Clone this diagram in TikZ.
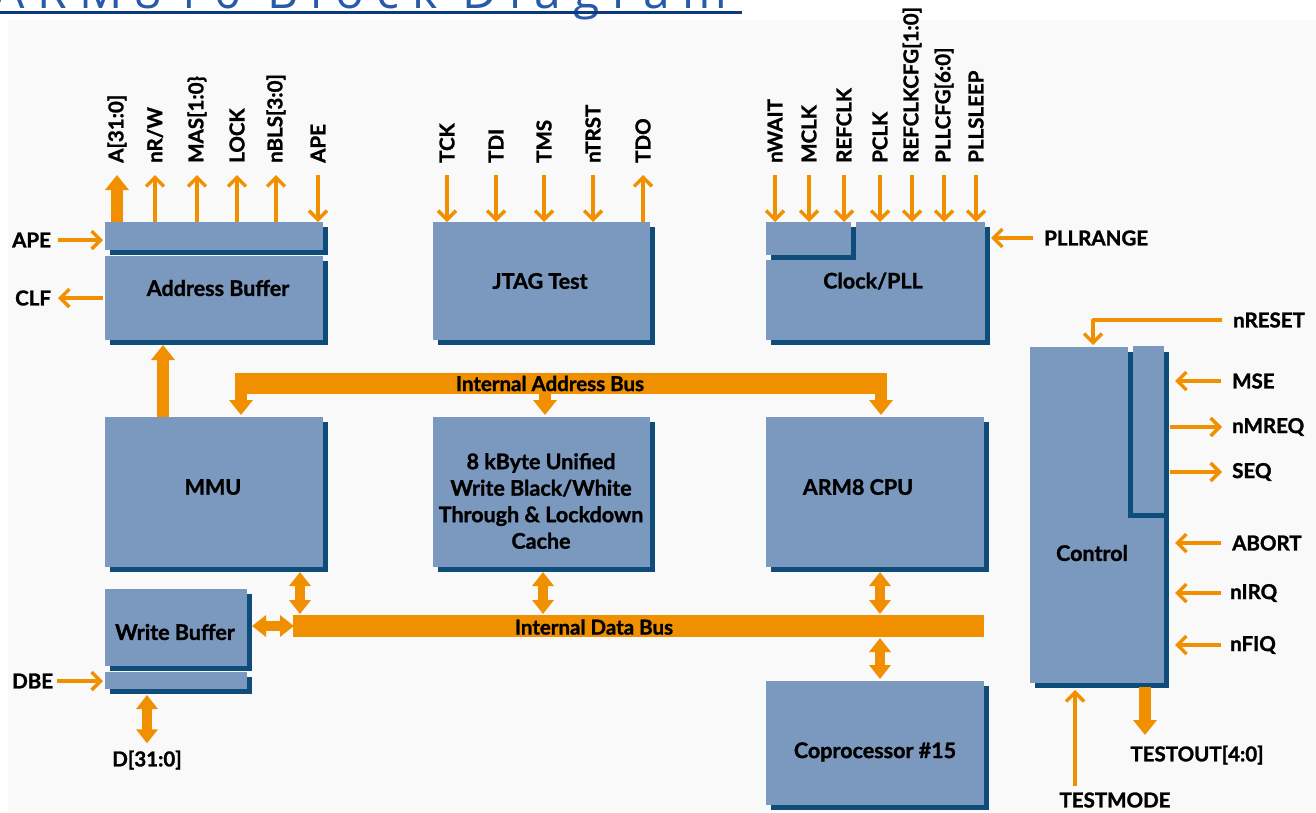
\documentclass[tikz,border=0pt]{standalone}
\usepackage{fontspec}
\setmainfont{Lato}[BoldFeatures={FakeBold=1.3}]
\newfontfamily\titlefont[LetterSpace=26]{Open Sans}
\usetikzlibrary{arrows.meta,shadows,calc}
\definecolor{blk}{RGB}{123,152,190}
\definecolor{shd}{RGB}{14,76,122}
\definecolor{org}{RGB}{240,144,0}
\definecolor{panel}{RGB}{249,249,249}
\definecolor{ttl}{RGB}{40,90,170}
\definecolor{uline}{RGB}{12,58,125}
\newcommand\bx[5]{\node[box,minimum width={#4-#2},minimum height={#5-#3}] (#1) at ({(#2+#4)/2},{(#3+#5)/2}) {};}
\begin{document}
\begin{tikzpicture}[x=1pt,y=-1pt,
  box/.style={fill=blk,draw=none,inner sep=0pt,outer sep=0pt,
    general shadow={fill=shd,shadow xshift=5pt,shadow yshift=-5pt}},
  lbl/.style={font=\bfseries\fontsize{20.5}{23}\selectfont,inner sep=0pt,text=black},
  blab/.style={font=\bfseries\fontsize{21.5}{26.5}\selectfont,inner sep=0pt,text=black,align=center},
  pinv/.style={lbl,rotate=90,anchor=west},
  pinl/.style={lbl,anchor=west},
  thinar/.style={draw=org,line width=3.5pt,line join=round,-{Straight Barb[width=18pt,length=9pt]}},
  thickar/.style={draw=org,line width=12pt,-{Triangle[width=23pt,length=15pt]}},
  dblar/.style={draw=org,line width=10pt,{Triangle[width=21pt,length=14pt]}-{Triangle[width=21pt,length=14pt]}},
  bus/.style={fill=org,inner sep=0pt,outer sep=0pt},
  buslab/.style={font=\bfseries\fontsize{20.5}{22}\selectfont,inner sep=0pt,text=black}
]
\useasboundingbox (0,0) rectangle (1316,812);
\begin{scope}
\clip (0,0) rectangle (1316,812);
\fill[white] (0,0) rectangle (1316,812);
\fill[panel] (8,20) rectangle (1316,812);
\node[font=\titlefont\fontsize{48}{54}\selectfont,text=ttl,anchor=base west,inner sep=0pt] (title) at (-6,8) {ARM810 Block Diagram};
\fill[uline] (0,11) rectangle (742,13.5);
\end{scope}

% ---------- blocks ----------
\bx{ab1}{105}{222}{323}{250}
\bx{ab2}{105}{256}{323}{340}
\bx{jt}{433}{222}{650}{340}
\bx{ck}{766}{222}{985}{340}
\fill[panel] (766,222) rectangle (856,260);
\bx{ck1}{766}{222}{851}{255}
\bx{mmu}{105}{417}{323}{567}
\bx{cache}{433}{417}{650}{567}
\bx{cpu}{766}{417}{984}{567}
\bx{wb1}{105}{589}{247}{666}
\bx{wb2}{105}{672}{247}{689}
\bx{cop}{766}{681}{984}{805}
\bx{ctrl}{1030}{347}{1164}{683}
\fill[shd] (1128,352) rectangle (1164,518);
\fill[panel] (1128,345) rectangle (1133,352);
\node[fill=blk,inner sep=0pt,outer sep=0pt,minimum width=31,minimum height=167] (ctrl1) at (1148.5,429.5) {};

% ---------- block texts ----------
\node[blab] (tab) at (218,288) {Address Buffer};
\node[blab] (tjt) at (540,281) {JTAG Test};
\node[blab] (tck) at (873,281) {Clock/PLL};
\node[blab] (tmmu) at (213,487) {MMU};
\node[blab] (tcache) at (541,501) {8 kByte Unified\\Write Black/White\\Through \& Lockdown\\Cache};
\node[blab] (tcpu) at (858,487) {ARM8 CPU};
\node[blab] (twb) at (175,632) {Write Buffer};
\node[blab] (tcop) at (875,752) {Coprocessor \#15};
\node[blab] (tctrl) at (1092,553) {Control};

% ---------- buses ----------
\node[bus,minimum width=652,minimum height=21] (iab) at (561,383.5) {};
\node[buslab] (liab) at (550,383.5) {Internal Address Bus};
\node[bus,minimum width=691,minimum height=22] (idb) at (638.5,626) {};
\node[buslab] (lidb) at (594,627) {Internal Data Bus};

\draw[thickar] ([xshift=6pt,yshift=1pt]iab.south west) -- ([xshift=6pt,yshift=2pt]iab.south west |- mmu.north);
\draw[thickar] ([xshift=-16pt,yshift=1pt]iab.south) -- ([xshift=-16pt,yshift=2pt]iab.south |- cache.north);
\draw[thickar] ([xshift=-6pt,yshift=1pt]iab.south east) -- ([xshift=-6pt,yshift=2pt]iab.south east |- cpu.north);

\draw[dblar] ([xshift=86pt,yshift=-5pt]mmu.south) -- ([xshift=86pt,yshift=1pt]mmu.south |- idb.north);
\draw[dblar] ([xshift=1.5pt,yshift=-5pt]cache.south) -- ([xshift=1.5pt,yshift=1pt]cache.south |- idb.north);
\draw[dblar] ([xshift=5pt,yshift=-5pt]cpu.south) -- ([xshift=5pt,yshift=1pt]cpu.south |- idb.north);
\draw[dblar] ([xshift=5pt,yshift=-1pt]cop.north |- idb.south) -- ([xshift=5pt,yshift=2pt]cop.north);
\draw[dblar] ([xshift=5pt]wb1.east |- idb.west) -- ([xshift=1pt]idb.west);

\draw[thickar] ([xshift=-51pt]mmu.north) -- ([xshift=-51pt,yshift=-5pt]ab2.south);

% ---------- address buffer pins ----------
\node[pinv] (pA) at (117,163) {A[31:0]};
\node[pinv] (pRW) at (155,163) {nR/W};
\node[pinv] (pMAS) at (197,163) {MAS[1:0\}};
\node[pinv] (pLOCK) at (237,163) {LOCK};
\node[pinv] (pBLS) at (276,163) {nBLS[3:0]};
\node[pinv] (pAPEt) at (318,163) {APE};
\draw[thickar] (ab1.north -| pA) -- ([yshift=-12pt]pA.west);
\draw[thinar] (ab1.north -| pRW) -- ([yshift=-12pt]pRW.west);
\draw[thinar] (ab1.north -| pMAS) -- ([yshift=-12pt]pMAS.west);
\draw[thinar] (ab1.north -| pLOCK) -- ([yshift=-12pt]pLOCK.west);
\draw[thinar] (ab1.north -| pBLS) -- ([yshift=-12pt]pBLS.west);
\draw[thinar] ([yshift=-12pt]pAPEt.west) -- (ab1.north -| pAPEt);

\node[pinl] (lAPE) at (12,240) {APE};
\node[pinl] (lCLF) at (15,298) {CLF};
\node[pinl] (lDBE) at (12,681) {DBE};
\draw[thinar] ([xshift=46pt]lAPE.west) -- ([xshift=-2pt]ab1.west |- lAPE.west);
\draw[thinar] ([xshift=-2pt]ab2.west |- lCLF.west) -- ([xshift=43pt]lCLF.west);
\draw[thinar] ([xshift=45pt]lDBE.west) -- ([xshift=-2pt]wb2.west |- lDBE.west);

\node[lbl] (lD) at (147,760) {D[31:0]};
\draw[dblar] ([yshift=-6pt]wb2.south -| lD) -- ([yshift=7pt]lD.north);

% ---------- JTAG pins ----------
\node[pinv] (pTCK) at (447,163) {TCK};
\node[pinv] (pTDI) at (496,163) {TDI};
\node[pinv] (pTMS) at (544,163) {TMS};
\node[pinv] (pTRST) at (593,163) {nTRST};
\node[pinv] (pTDO) at (643,163) {TDO};
\draw[thinar] ([yshift=-12pt]pTCK.west) -- (jt.north -| pTCK);
\draw[thinar] ([yshift=-12pt]pTDI.west) -- (jt.north -| pTDI);
\draw[thinar] ([yshift=-12pt]pTMS.west) -- (jt.north -| pTMS);
\draw[thinar] ([yshift=-12pt]pTRST.west) -- (jt.north -| pTRST);
\draw[thinar] (jt.north -| pTDO) -- ([yshift=-12pt]pTDO.west);

% ---------- clock pins ----------
\node[pinv] (pWAIT) at (775,163) {nWAIT};
\node[pinv] (pMCLK) at (809,163) {MCLK};
\node[pinv] (pREF) at (844,163) {REFCLK};
\node[pinv] (pPCLK) at (880,163) {PCLK};
\node[pinv] (pRCFG) at (912,163) {REFCLKCFG[1:0]};
\node[pinv] (pPCFG) at (944,163) {PLLCFG[6:0]};
\node[pinv] (pSLP) at (976,163) {PLLSLEEP};
\draw[thinar] ([yshift=-12pt]pWAIT.west) -- (ck.north -| pWAIT);
\draw[thinar] ([yshift=-12pt]pMCLK.west) -- (ck.north -| pMCLK);
\draw[thinar] ([yshift=-12pt]pREF.west) -- (ck.north -| pREF);
\draw[thinar] ([yshift=-12pt]pPCLK.west) -- (ck.north -| pPCLK);
\draw[thinar] ([yshift=-12pt]pRCFG.west) -- (ck.north -| pRCFG);
\draw[thinar] ([yshift=-12pt]pPCFG.west) -- (ck.north -| pPCFG);
\draw[thinar] ([yshift=-12pt]pSLP.west) -- (ck.north -| pSLP);
\node[pinl] (lPR) at (1044,238) {PLLRANGE};
\draw[thinar] ([xshift=-11pt]lPR.west) -- ([xshift=6pt]ck.east |- lPR.west);

% ---------- control pins ----------
\node[pinl] (lRST) at (1233,320) {nRESET};
\node[pinl] (lMSE) at (1232,381) {MSE};
\node[pinl] (lMREQ) at (1232,427) {nMREQ};
\node[pinl] (lSEQ) at (1232,472) {SEQ};
\node[pinl] (lABT) at (1232,543) {ABORT};
\node[pinl] (lIRQ) at (1230,593) {nIRQ};
\node[pinl] (lFIQ) at (1230,645) {nFIQ};
\draw[thinar] ([xshift=-11pt]lRST.west) -| ([shift={(-4pt,2pt)}]ctrl.north);
\draw[thinar] ([xshift=-11pt]lMSE.west) -- ([xshift=11pt]ctrl.east |- lMSE.west);
\draw[thinar] ([xshift=6pt]ctrl.east |- lMREQ.west) -- ([xshift=-10pt]lMREQ.west);
\draw[thinar] ([xshift=6pt]ctrl.east |- lSEQ.west) -- ([xshift=-10pt]lSEQ.west);
\draw[thinar] ([xshift=-11pt]lABT.west) -- ([xshift=11pt]ctrl.east |- lABT.west);
\draw[thinar] ([xshift=-9pt]lIRQ.west) -- ([xshift=11pt]ctrl.east |- lIRQ.west);
\draw[thinar] ([xshift=-9pt]lFIQ.west) -- ([xshift=11pt]ctrl.east |- lFIQ.west);

\node[lbl] (lTO) at (1197,755) {TESTOUT[4:0]};
\node[lbl] (lTM) at (1115,800) {TESTMODE};
\coordinate (toend) at (1145,735);
\coordinate (tmend) at (1075,786);
\draw[thickar] ([yshift=-4pt]ctrl.south -| toend) -- (toend);
\draw[thinar] (tmend) -- ([yshift=-7pt]ctrl.south -| tmend);
\end{tikzpicture}
\end{document}
